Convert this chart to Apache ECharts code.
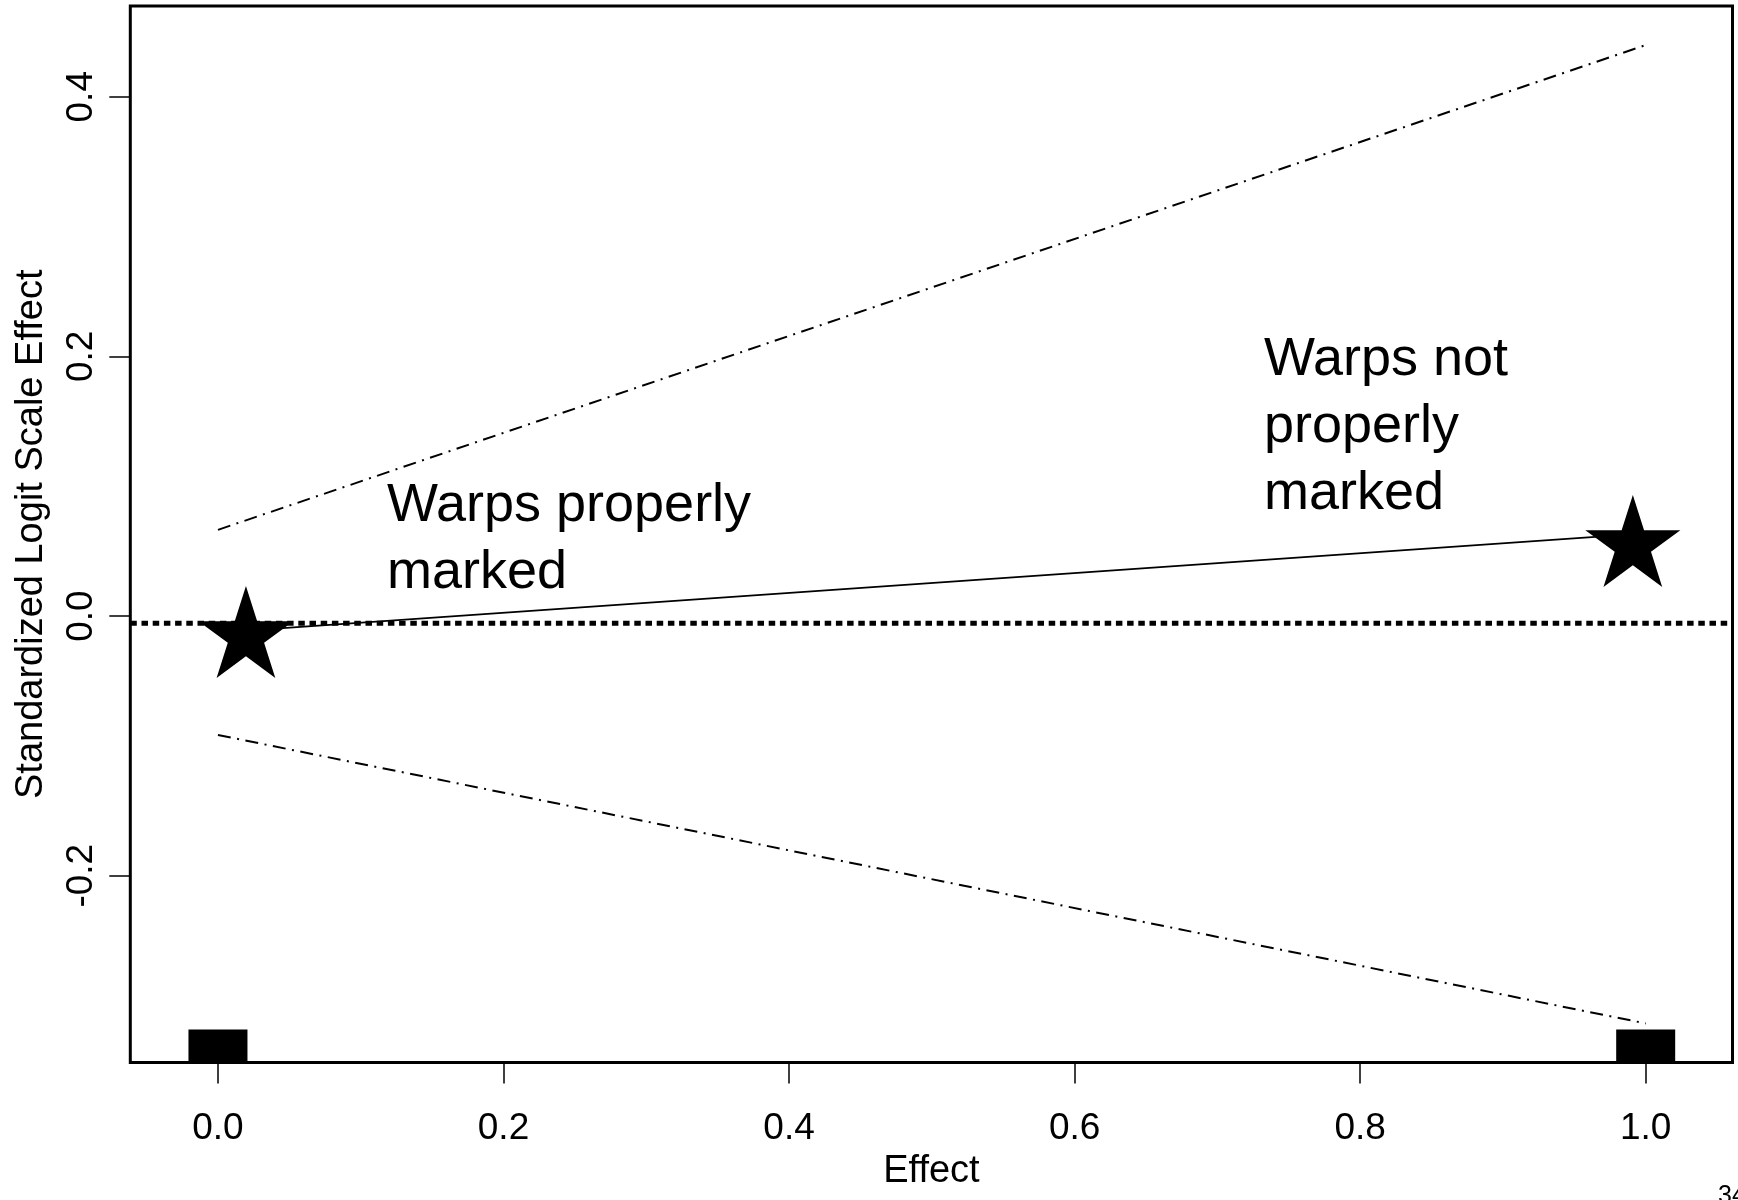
<!DOCTYPE html>
<html>
<head>
<meta charset="utf-8">
<script src="https://cdn.jsdelivr.net/npm/echarts@6/dist/echarts.min.js"></script>
<style>
  html, body { margin: 0; padding: 0; background: #fff; }
  #chart { width: 1738px; height: 1200px; }
</style>
</head>
<body>
<div id="chart"></div>
<script>
// Axis ranges and ticks
const X_MIN = -0.0614, X_MAX = 1.0608;
const Y_MIN = -0.3439, Y_MAX = 0.4699;
const xTicks = [0, 0.2, 0.4, 0.6, 0.8, 1.0];
const yTicks = [-0.2, 0, 0.2, 0.4];

// Confidence band (dot-dash lines)
const bandX = [0, 1];
const bandUpper = [0.0664, 0.4398];
const bandLower = [-0.0916, -0.3138];

// Estimated effect (solid line)
const estX = [0, 1];
const estY = [-0.0127, 0.0637];

// Observed points (stars)
const starX = [0.0196, 0.991];
const starY = [-0.0123, 0.0578];

// Reference level (heavy dotted line)
const refLevel = -0.0056;

// Rug marks along the x axis
const rugX = [0, 1];

const pairs = (xs, ys) => xs.map((x, i) => [x, ys[i]]);

// Five-pointed star outline for the point symbol
function starPath(R, ratio) {
  const r = R * ratio;
  const pts = [];
  for (let k = 0; k < 10; k++) {
    const a = (-90 + 36 * k) * Math.PI / 180;
    const rad = k % 2 === 0 ? R : r;
    pts.push((rad * Math.cos(a)).toFixed(2) + ',' + (rad * Math.sin(a)).toFixed(2));
  }
  return 'path://M' + pts.join('L') + 'Z';
}

const FONT = '"Liberation Sans", Arial, Helvetica, sans-serif';
const dotDash = [13, 6.5, 2, 6.5];

const chart = echarts.init(document.getElementById('chart'), null, { renderer: 'canvas' });

chart.setOption({
  animation: false,
  backgroundColor: '#ffffff',
  grid: {
    left: 130.3, right: 5.5, top: 6, bottom: 137.5,
    show: true, borderColor: '#000', borderWidth: 3, backgroundColor: 'transparent'
  },
  xAxis: {
    type: 'value', min: X_MIN, max: X_MAX,
    name: 'Effect', nameLocation: 'middle', nameGap: 86,
    nameTextStyle: { fontFamily: FONT, fontSize: 38, color: '#000' },
    axisLine: { show: false, onZero: false },
    splitLine: { show: false },
    axisTick: { show: true, inside: false, length: 21, customValues: xTicks,
      lineStyle: { color: '#000', width: 1.5 } },
    axisLabel: { show: true, margin: 48, customValues: xTicks,
      fontFamily: FONT, fontSize: 37, color: '#000',
      formatter: v => v.toFixed(1) }
  },
  yAxis: {
    type: 'value', min: Y_MIN, max: Y_MAX,
    name: 'Standardized Logit Scale Effect', nameLocation: 'middle', nameGap: 80,
    nameTextStyle: { fontFamily: FONT, fontSize: 38, color: '#000' },
    axisLine: { show: false, onZero: false },
    splitLine: { show: false },
    axisTick: { show: true, inside: false, length: 21, customValues: yTicks,
      lineStyle: { color: '#000', width: 1.5 } },
    axisLabel: { show: true, margin: 30, rotate: 90, customValues: yTicks,
      fontFamily: FONT, fontSize: 37, color: '#000',
      formatter: v => v.toFixed(1) }
  },
  series: [
    { name: 'reference', type: 'line', data: [[X_MIN, refLevel], [X_MAX, refLevel]],
      symbol: 'none', silent: true,
      lineStyle: { color: '#000', width: 5, type: [6.5, 4.7], cap: 'butt' } },
    { name: 'upper', type: 'line', data: pairs(bandX, bandUpper), symbol: 'none', silent: true,
      lineStyle: { color: '#000', width: 2, type: dotDash } },
    { name: 'lower', type: 'line', data: pairs(bandX, bandLower), symbol: 'none', silent: true,
      lineStyle: { color: '#000', width: 2, type: dotDash } },
    { name: 'estimate', type: 'line', data: pairs(estX, estY), symbol: 'none', silent: true,
      lineStyle: { color: '#000', width: 1.8, type: 'solid' } },
    { name: 'points', type: 'scatter', data: pairs(starX, starY),
      symbol: starPath(50, 0.382), symbolSize: [95, 92],
      itemStyle: { color: '#000', opacity: 1 }, clip: false, silent: true, z: 5 },
    { name: 'rug', type: 'scatter', data: rugX.map(x => [x, Y_MIN]),
      symbol: 'rect', symbolSize: [59, 34], symbolOffset: [0, -16],
      itemStyle: { color: '#000', opacity: 1 }, clip: false, silent: true, z: 4 }
  ],
  graphic: [
    { type: 'text', left: 387, top: 473, silent: true,
      style: { text: 'Warps properly\nmarked', font: '54px ' + FONT, fill: '#000', lineHeight: 67 } },
    { type: 'text', left: 1264, top: 327, silent: true,
      style: { text: 'Warps not\nproperly\nmarked', font: '54px ' + FONT, fill: '#000', lineHeight: 67 } },
    { type: 'text', left: 1718, top: 1184, silent: true,
      style: { text: '34', font: '25px ' + FONT, fill: '#000' } }
  ]
});
</script>
</body>
</html>
